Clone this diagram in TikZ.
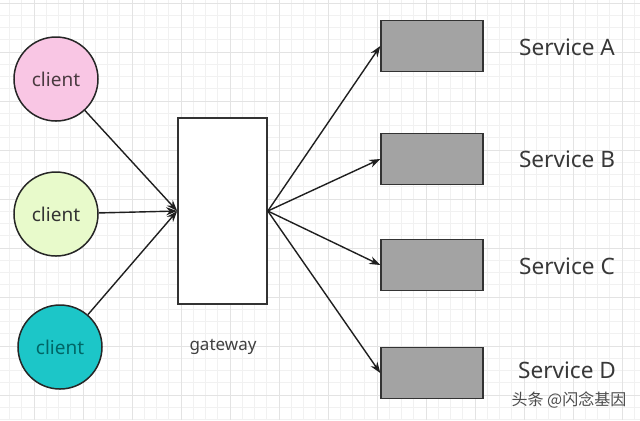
\documentclass[tikz,border=0pt]{standalone}
\usepackage{fontspec}
\setmainfont{Noto Sans}
\newfontfamily\cjkfont{Noto Sans CJK SC}
\usetikzlibrary{arrows.meta,positioning}

\definecolor{pinkfill}{HTML}{F9C6E4}
\definecolor{limefill}{HTML}{E8FACB}
\definecolor{tealfill}{HTML}{1CC6C8}
\definecolor{boxgray}{HTML}{A3A3A3}
\definecolor{gridminor}{HTML}{F1F1F1}
\definecolor{gridmajor}{HTML}{E3E3E3}

\begin{document}
\begin{tikzpicture}[x=0.5pt, y=-0.5pt,
        client/.style={circle, draw=black!85, line width=0.75pt, minimum size=42pt,
                       inner sep=0pt, font=\fontsize{9.5}{11}\selectfont},
        gate/.style={draw=black!80, line width=0.8pt, fill=white,
                     minimum width=44.5pt, minimum height=93pt, inner sep=0pt},
        svc/.style={draw=black!80, line width=0.7pt, fill=boxgray,
                    minimum width=51pt, minimum height=25.5pt, inner sep=0pt},
        svclabel/.style={font=\fontsize{11.3}{13}\selectfont, text=black!78},
        arr/.style={-{Stealth[length=5.5pt,width=4pt]}, line width=0.7pt, draw=black!88},
    ]
        \useasboundingbox (0,0) rectangle (640,420);
        \fill[white] (0,0) rectangle (640,420);
        % background grid
        \begin{scope}
            \clip (0,0) rectangle (640,420);
            \foreach \k in {-3,...,50} {
                \draw[gridminor, line width=0.3pt] ({34+12.25*\k},0) -- ++(0,420);
                \draw[gridminor, line width=0.3pt] (0,{3+12.25*\k}) -- ++(640,0);
            }
            \foreach \k in {-1,...,13} {
                \draw[gridmajor, line width=0.4pt] ({34+49*\k},0) -- ++(0,420);
                \draw[gridmajor, line width=0.4pt] (0,{3+49*\k}) -- ++(640,0);
            }
        \end{scope}

        \node[client, fill=pinkfill, text=black!70!magenta!60!black] (c1) at (56,79)  {client};
        \node[client, fill=limefill, text=black!80] (c2) at (56,214) {client};
        \node[client, fill=tealfill, text=teal!80!black] (c3) at (60,347) {client};

        \node[gate] (gw) at (222.5,211) {};
        \node[font=\fontsize{8.5}{10}\selectfont, text=black!75] (gwlabel) at (223,347) {gateway};

        \node[svc] (sa) at (432,46)  {};
        \node[svc] (sb) at (432,159) {};
        \node[svc] (sc) at (432,265) {};
        \node[svc] (sd) at (432,373) {};

        \node[svclabel] (la) at (567,47)  {Service A};
        \node[svclabel] (lb) at (567,159) {Service B};
        \node[svclabel] (lc) at (567,266) {Service C};
        \node[svclabel] (ld) at (567,370) {Service D};

        \node[font=\cjkfont\fontsize{8}{10}\selectfont, text=black!70] (mark) at (569,400) {头条 @闪念基因};

        \draw[arr] (c1) -- (gw.west);
        \draw[arr] (c2) -- (gw.west);
        \draw[arr] (c3) -- (gw.west);

        \draw[arr] (gw.east) -- (sa.west);
        \draw[arr] (gw.east) -- (sb.west);
        \draw[arr] (gw.east) -- (sc.west);
        \draw[arr] (gw.east) -- (sd.west);
    \end{tikzpicture}
\end{document}
